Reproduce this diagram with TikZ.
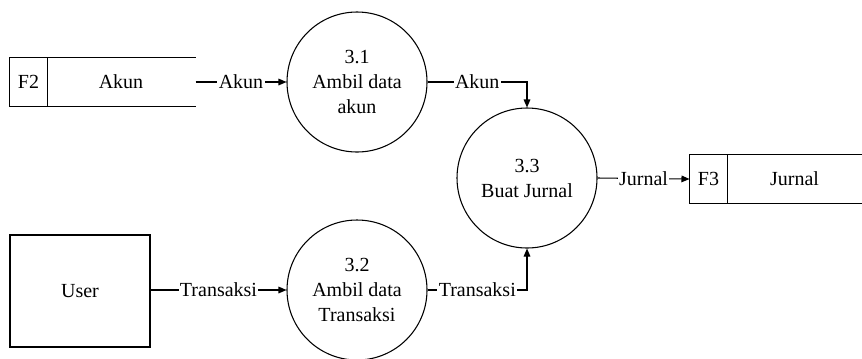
\documentclass[tikz,border=0pt]{standalone}
\usepackage{fontspec}
\setmainfont{Liberation Serif}
\usetikzlibrary{arrows.meta}
\begin{document}
\begin{tikzpicture}[x=0.75pt,y=-0.75pt,line width=0.8pt,
  font=\fontsize{15}{18.75}\selectfont,
  proses/.style={draw,circle,minimum size=105pt,inner sep=0pt,align=center},
  entitas/.style={draw,minimum width=105pt,minimum height=84pt},
  simpan/.style={minimum height=36pt,inner sep=0pt},
  alir/.style={-{Triangle[length=6pt,width=5pt]}},
  lbl/.style={fill=white,inner sep=1pt}]
\useasboundingbox (0,0) rectangle (862,358);
% data store F2
\node[simpan,minimum width=27.75pt] (f2id) at (28.5,82) {F2};
\node[simpan,minimum width=111pt] (f2) at (121,82) {Akun};
\draw (f2.north east) -- (f2id.north west) -- (f2id.south west) -- (f2.south east);
\draw (f2id.north east) -- (f2id.south east);
% data store F3
\node[simpan,minimum width=27.75pt] (f3id) at (708.5,179) {F3};
\node[simpan,minimum width=101.25pt] (f3) at (794.5,179) {Jurnal};
\draw (f3.north east) -- (f3id.north west) -- (f3id.south west) -- (f3.south east);
\draw (f3id.north east) -- (f3id.south east);
% entitas luar
\node[entitas] (user) at (80,291) {User};
% proses
\node[proses] (p31) at (357,82) {3.1\\Ambil data\\akun};
\node[proses] (p32) at (357,290) {3.2\\Ambil data\\Transaksi};
\node[proses] (p33) at (527,178) {3.3\\Buat Jurnal};
% aliran data
\draw[alir] (f2.east) -- node[lbl] {Akun} (p31.west);
\draw[alir] (user.east |- p32.west) -- node[lbl] {Transaksi} (p32.west);
\draw[alir] (p31.east) -| node[lbl,pos=0.25] {Akun} (p33.north);
\draw[alir] (p32.east) -| node[lbl,pos=0.25] {Transaksi} (p33.south);
\draw[alir] (p33.east) -- node[lbl] {Jurnal} (f3id.west);
\end{tikzpicture}
\end{document}
